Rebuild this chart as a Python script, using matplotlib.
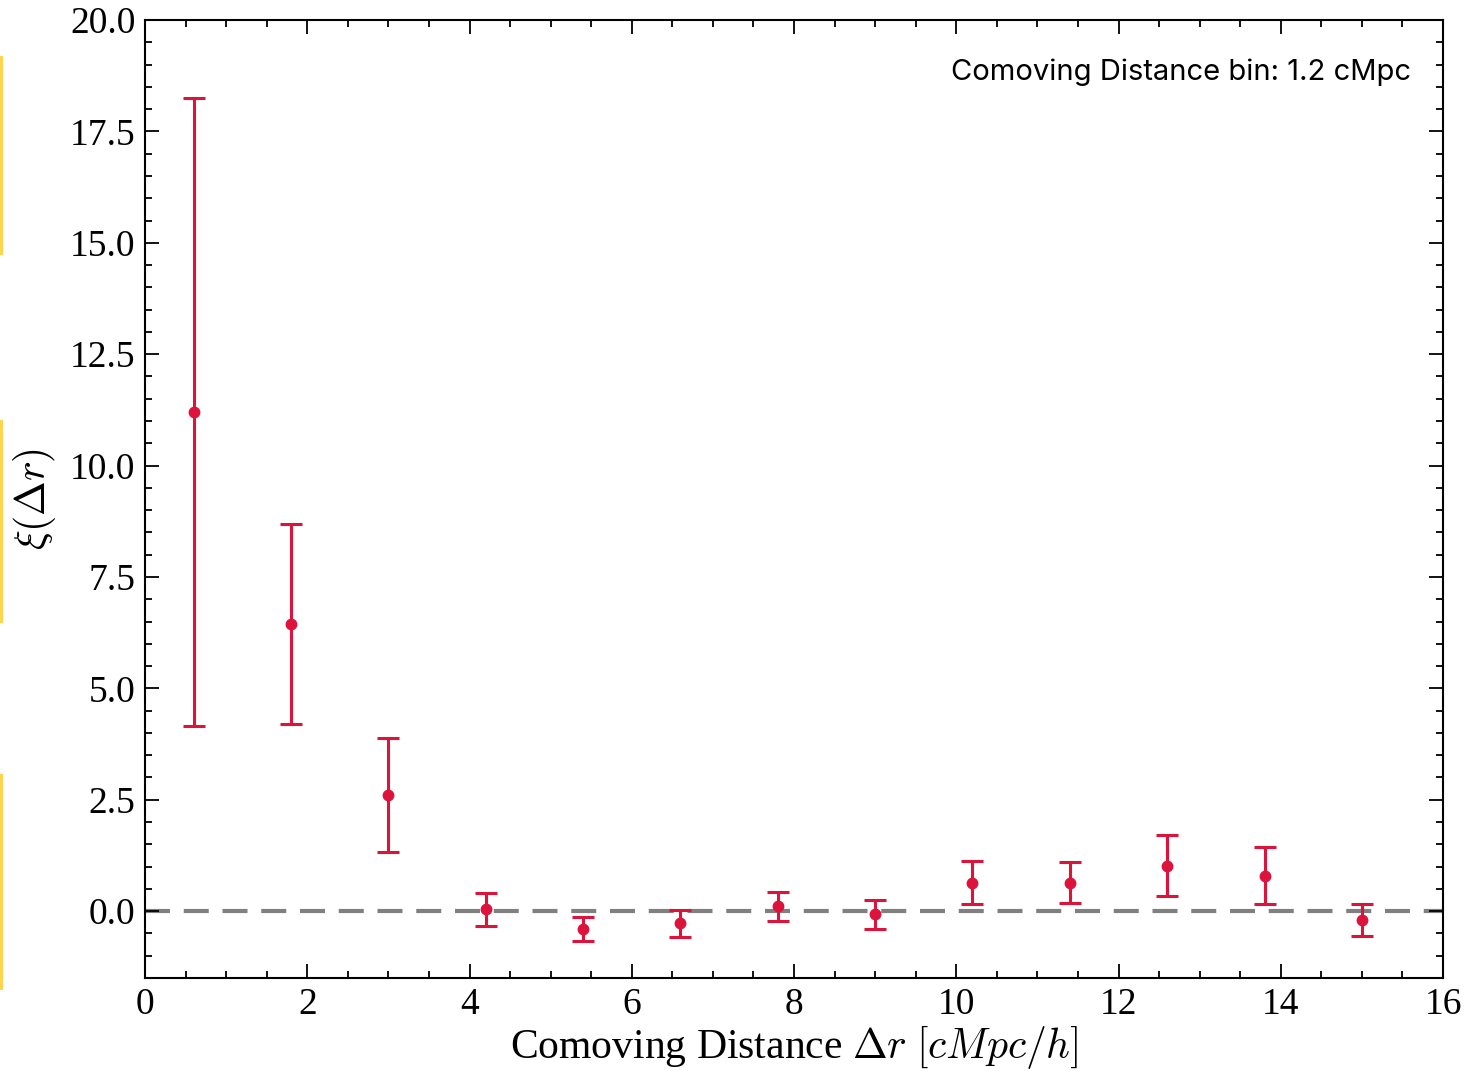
import matplotlib
matplotlib.use("Agg")
import matplotlib.pyplot as plt
from matplotlib.ticker import MultipleLocator
from matplotlib.lines import Line2D
import numpy as np

# Two-point correlation in comoving-distance bins of 1.2 cMpc
r_bins = [0.6, 1.8, 3.0, 4.2, 5.4, 6.6, 7.8, 9.0, 10.2, 11.4, 12.6, 13.8, 15.0]
xi = [11.20, 6.45, 2.60, 0.04, -0.40, -0.27, 0.11, -0.07, 0.64, 0.64, 1.02, 0.79, -0.19]
xi_err = [7.05, 2.25, 1.28, 0.37, 0.28, 0.30, 0.33, 0.32, 0.49, 0.46, 0.68, 0.64, 0.36]

x_ticks = [0, 2, 4, 6, 8, 10, 12, 14, 16]
y_ticks = [0.0, 2.5, 5.0, 7.5, 10.0, 12.5, 15.0, 17.5, 20.0]

plt.rcParams["font.family"] = ["Liberation Serif", "DejaVu Serif"]
plt.rcParams["mathtext.fontset"] = "cm"

fig = plt.figure(figsize=(14.7, 10.71), dpi=100)
ax = fig.add_axes([145 / 1470, 1 - 978 / 1071, (1443 - 145) / 1470, (978 - 20) / 1071])

ax.axhline(0, color="#808080", lw=3, ls=(0, (6, 3.3)), zorder=1)
ax.errorbar(r_bins, xi, yerr=xi_err, fmt="o", color="#DC143C", ms=7.5,
            elinewidth=2.2, capsize=8, capthick=2.2, zorder=3)

ax.set_xlim(0, 16)
ax.set_ylim(-1.5, 20)
ax.set_xticks(x_ticks)
ax.set_yticks(y_ticks)
ax.set_yticklabels([f"{v:.1f}" for v in y_ticks])
ax.xaxis.set_minor_locator(MultipleLocator(0.5))
ax.yaxis.set_minor_locator(MultipleLocator(0.5))
ax.tick_params(which="both", direction="in", top=True, right=True, width=1.3)
ax.tick_params(which="major", length=10, labelsize=27, pad=7)
ax.tick_params(which="minor", length=5)
for s in ax.spines.values():
    s.set_linewidth(1.5)

ax.set_xlabel(r"Comoving Distance $\Delta r$ $[cMpc/h]$", fontsize=30, labelpad=1)
ax.set_ylabel(r"$\xi(\Delta r)$", fontsize=30, labelpad=8)

ax.text(0.975, 0.945, "Comoving Distance bin: 1.2 cMpc", transform=ax.transAxes,
        ha="right", va="center", fontsize=21, family=["Inter", "DejaVu Sans"])

# thin gold marks along the left margin
for y0, y1 in [(57, 253), (421, 621), (775, 988)]:
    fig.add_artist(Line2D([0.0008, 0.0008], [1 - y0 / 1071, 1 - y1 / 1071],
                          transform=fig.transFigure, color="#FFD54F", lw=2.2))

fig.savefig("out.png", dpi=100)
